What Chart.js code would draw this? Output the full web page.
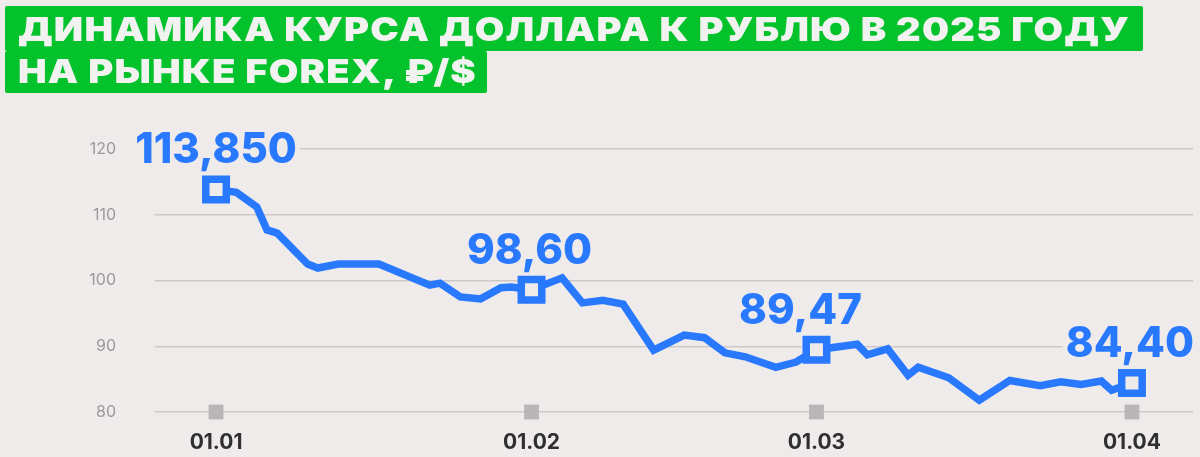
<!DOCTYPE html>
<html>
<head>
<meta charset="utf-8">
<script src="https://cdn.jsdelivr.net/npm/chart.js@4"></script>
<style>
  html, body { margin: 0; padding: 0; background: #efebeb; }
  #wrap { position: relative; width: 1200px; height: 457px; overflow: hidden; }
  canvas { position: absolute; left: 0; top: 0; }
  .tb { position: absolute; left: 5px; background: #03c22b; color: #f2f2f0;
        font-family: Inter, "Open Sans", sans-serif; font-weight: 900; font-size: 33px;
        white-space: nowrap; box-sizing: border-box; padding-left: 13px; border-radius: 2px; }
  #t1 { top: 6px; height: 45px; width: 1138px; line-height: 47px; }
  #t2 { top: 51px; height: 42px; width: 482px; line-height: 41px; }
  .tb span { display: inline-block; transform-origin: 0 50%; }
</style>
</head>
<body>
<div id="wrap">
  <canvas id="c" width="1200" height="457"></canvas>
  <div id="t1" class="tb"><span>ДИНАМИКА КУРСА ДОЛЛАРА К РУБЛЮ В 2025 ГОДУ</span></div>
  <div id="t2" class="tb"><span>НА РЫНКЕ FOREX, ₽/$</span></div>
</div>
<script>
// ---- data ----
const tickDates  = ['01.01', '01.02', '01.03', '01.04'];
const tickLabels = ['01.01', '01.02', '01.03', '01.04'];
const yTicks     = [80, 90, 100, 110, 120];

const dates = ['01.01','03.01','05.01','06.01','07.01','10.01','11.01','13.01','17.01',
  '22.01','23.01','25.01','27.01','29.01','30.01','01.02','04.02','06.02','08.02','10.02',
  '13.02','16.02','18.02','20.02','22.02','25.02','27.02','01.03','05.03','06.03','08.03',
  '10.03','11.03','14.03','17.03','20.03','23.03','25.03','27.03','29.03','30.03','01.04'];
const values = [113.85,113.4,111.2,107.7,107.2,102.5,101.9,102.5,102.5,
  99.3,99.6,97.5,97.2,98.9,99.0,98.6,100.4,96.6,97.0,96.4,
  89.4,91.7,91.3,89.0,88.4,86.8,87.6,89.47,90.3,88.7,89.6,
  85.6,86.8,85.2,81.8,84.8,84.0,84.6,84.2,84.7,83.3,84.40];

const keyDates  = ['01.01', '01.02', '01.03', '01.04'];
const keyValues = [113.85, 98.60, 89.47, 84.40];
const keyLabels = ['113,850', '98,60', '89,47', '84,40'];

// ---- helpers ----
function dayOf(s) {
  const [d, m] = s.split('.').map(Number);
  return (Date.UTC(2025, m - 1, d) - Date.UTC(2025, 0, 1)) / 86400000;
}
const BG = '#efebeb';
const BLUE = '#2979ff';

const labelPlugin = {
  id: 'keyLabels',
  afterDatasetsDraw(chart, args, opts) {
    const meta = chart.getDatasetMeta(2);
    const ctx = chart.ctx;
    ctx.save();
    ctx.font = '800 42px Inter, "Open Sans", sans-serif';
    ctx.textAlign = 'center';
    ctx.textBaseline = 'alphabetic';
    meta.data.forEach((el, i) => {
      const x = el.x + (opts.dx[i] || 0);
      const y = el.y - opts.gap;
      const w = ctx.measureText(keyLabels[i]).width;
      ctx.fillStyle = BG;
      ctx.fillRect(x - w / 2 - 3, y - 34, w + 6, 38);
      ctx.fillStyle = BLUE;
      ctx.fillText(keyLabels[i], x, y);
    });
    ctx.restore();
  }
};

new Chart(document.getElementById('c'), {
  type: 'scatter',
  data: {
    datasets: [
      {
        label: 'ticks',
        data: tickDates.map(d => ({ x: dayOf(d), y: 80 })),
        showLine: false,
        pointStyle: 'rect',
        pointRadius: 10.5,
        pointBackgroundColor: '#b8b6b6',
        pointBorderWidth: 0,
        order: 2,
        clip: false
      },
      {
        label: 'USD/RUB',
        data: dates.map((d, i) => ({ x: dayOf(d), y: values[i] })),
        showLine: true,
        borderColor: BLUE,
        borderWidth: 7.5,
        borderJoinStyle: 'miter',
        pointRadius: 0,
        tension: 0,
        order: 1,
        clip: false
      },
      {
        label: 'key',
        data: keyDates.map((d, i) => ({ x: dayOf(d), y: keyValues[i] })),
        showLine: false,
        pointStyle: 'rect',
        pointRadius: 14.5,
        pointBorderWidth: 7.5,
        pointBorderColor: BLUE,
        pointBackgroundColor: BG,
        order: 0,
        clip: false
      }
    ]
  },
  options: {
    responsive: false,
    animation: false,
    events: [],
    layout: { autoPadding: false, padding: { top: 149, right: 7, bottom: 2, left: 0 } },
    plugins: {
      legend: { display: false },
      tooltip: { enabled: false },
      keyLabels: { gap: 26, dx: [0, -2, -16, -2] }
    },
    scales: {
      x: {
        type: 'linear',
        min: -6, max: 96,
        grid: { display: false, drawTicks: false },
        border: { display: false },
        afterBuildTicks(s) { s.ticks = tickDates.map(d => ({ value: dayOf(d) })); },
        afterFit(s) { s.height = 43; s.paddingLeft = 0; s.paddingRight = 0; },
        ticks: {
          padding: 18,
          color: '#2f2f2f',
          font: { family: 'Inter', weight: '700', size: 21 },
          callback(v) { const i = tickDates.findIndex(d => dayOf(d) === v); return i >= 0 ? tickLabels[i] : ''; },
          maxRotation: 0, autoSkip: false
        }
      },
      y: {
        min: 80, max: 120,
        afterBuildTicks(s) { s.ticks = yTicks.map(v => ({ value: v })); },
        afterFit(s) { s.width = 155; s.paddingTop = 0; s.paddingBottom = 0; },
        grid: { color: '#cdc9c9', lineWidth: 1.5, drawTicks: false },
        border: { display: false },
        ticks: {
          padding: 39,
          color: '#9a9a9a',
          font: { family: 'Inter', weight: '400', size: 16 }
        }
      }
    }
  },
  plugins: [labelPlugin]
});

// fit title text widths (horizontal scale + slight tracking)
function fitTitle(id, target) {
  const span = document.querySelector('#' + id + ' span');
  span.style.transform = 'none';
  span.style.letterSpacing = '1px';
  const w = span.getBoundingClientRect().width;
  span.style.transform = 'scaleX(' + (target / w) + ')';
}
function fitAll() { fitTitle('t1', 1112); fitTitle('t2', 459); }
fitAll();
if (document.fonts && document.fonts.ready) document.fonts.ready.then(fitAll);
</script>
</body>
</html>
